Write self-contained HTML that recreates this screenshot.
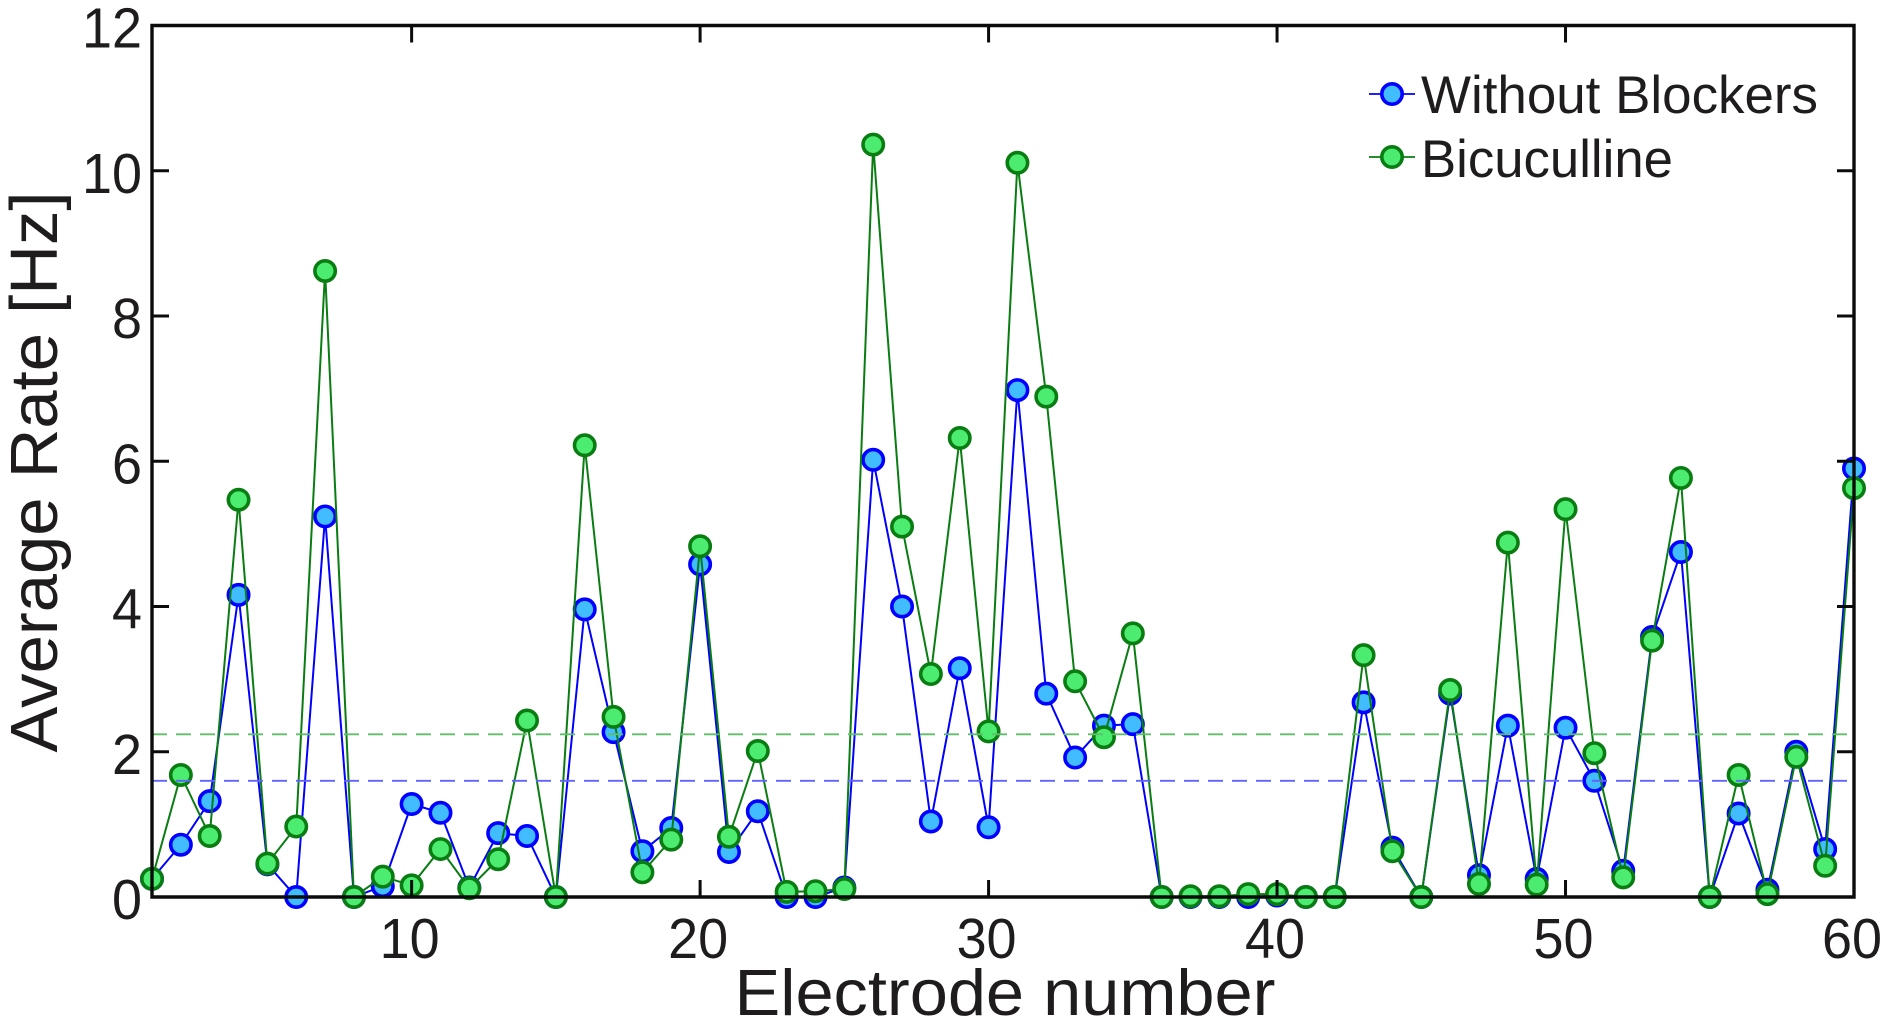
<!DOCTYPE html>
<html lang="en">
<head>
<meta charset="utf-8">
<title>Average Rate per Electrode</title>
<style>
html,body{margin:0;padding:0;background:#fff;}
svg{display:block;}
text{font-family:"Liberation Sans",sans-serif;fill:#1f1c1d;}
</style>
</head>
<body>
<svg id="chart" width="1890" height="1026" viewBox="0 0 1890 1026" xmlns="http://www.w3.org/2000/svg">
  <rect x="0" y="0" width="1890" height="1026" fill="#ffffff"/>
  <g id="series-layer"></g>
  <g id="mean-layer"></g>
  <g id="axis-layer"></g>
  <text x="0" y="0" font-size="67" text-anchor="middle" textLength="561" lengthAdjust="spacingAndGlyphs" transform="translate(57 472) rotate(-90)">Average Rate [Hz]</text>
  <text x="1005" y="1015" font-size="65" text-anchor="middle" textLength="541" lengthAdjust="spacingAndGlyphs">Electrode number</text>
  <g>
    <g>
      <line x1="1369" y1="94" x2="1415" y2="94" stroke="#0000ff" stroke-width="1.8"/>
      <circle cx="1392" cy="94" r="10.2" fill="#40bcff" stroke="#0000ff" stroke-width="3.6"/>
      <text x="1421" y="113" font-size="53" textLength="397" lengthAdjust="spacingAndGlyphs">Without Blockers</text>
    </g>
    <g>
      <line x1="1369" y1="157" x2="1415" y2="157" stroke="#0a7d12" stroke-width="1.8"/>
      <circle cx="1392" cy="157" r="10.2" fill="#4cec70" stroke="#0a7d12" stroke-width="3.6"/>
      <text x="1421" y="177" font-size="53" textLength="252" lengthAdjust="spacingAndGlyphs">Bicuculline</text>
    </g>
  </g>
</svg>
<script>
const withoutBlockers = [0.25,0.72,1.32,4.16,0.45,0,5.24,0,0.15,1.28,1.16,0.13,0.88,0.84,0,3.96,2.27,0.63,0.95,4.58,0.62,1.18,0,0,0.13,6.02,4.0,1.04,3.15,0.96,6.98,2.8,1.92,2.36,2.38,0,0,0,0,0.02,0,0,2.68,0.68,0,2.8,0.3,2.36,0.25,2.33,1.6,0.36,3.58,4.75,0,1.15,0.1,2.0,0.66,5.9];
const bicuculline = [0.25,1.68,0.84,5.47,0.46,0.97,8.62,0,0.28,0.16,0.66,0.12,0.52,2.43,0,6.22,2.48,0.34,0.79,4.83,0.83,2.01,0.07,0.08,0.11,10.36,5.1,3.07,6.32,2.28,10.11,6.89,2.97,2.2,3.63,0,0.01,0.01,0.04,0.04,0,0,3.33,0.63,0,2.85,0.18,4.88,0.17,5.34,1.98,0.27,3.53,5.77,0,1.68,0.04,1.93,0.43,5.63];
const meanWithoutBlockers = 1.6;
const meanBicuculline = 2.24;
const xTicks = [10,20,30,40,50,60];
const yTicks = [0,2,4,6,8,10,12];

const NS = 'http://www.w3.org/2000/svg';
const xMin = 1, xMax = 60, yMin = 0, yMax = 12;
const plotL = 152, plotR = 1854, plotT = 25.5, plotB = 897;
const DIGIT_W = 30;
function xScale(v){ return plotL + (v - xMin) / (xMax - xMin) * (plotR - plotL); }
function yScale(v){ return plotB - (v - yMin) / (yMax - yMin) * (plotB - plotT); }
function make(tag, attrs, parent){
  const el = document.createElementNS(NS, tag);
  for (const k in attrs) el.setAttribute(k, attrs[k]);
  parent.appendChild(el);
  return el;
}
const seriesLayer = document.getElementById('series-layer');
const meanLayer = document.getElementById('mean-layer');
const axisLayer = document.getElementById('axis-layer');

function drawSeries(values, key, lineColor, fill, edge){
  const line = make('polyline', {
    points: values.map((v, i) => xScale(i + 1) + ',' + yScale(v)).join(' '),
    fill: 'none', stroke: lineColor, 'stroke-width': 2, 'stroke-linejoin': 'miter'
  }, seriesLayer);
  
  
  values.forEach((v, i) => {
    const c = make('circle', {
      cx: xScale(i + 1), cy: yScale(v), r: 10.2, fill: fill, stroke: edge, 'stroke-width': 3.6
    }, seriesLayer);
    
    
  });
}
drawSeries(withoutBlockers, 'without-blockers', '#0000ff', '#40bcff', '#0000ff');
drawSeries(bicuculline, 'bicuculline', '#0a7d12', '#4cec70', '#0a7d12');

function drawMean(value, key, color, dash){
  const l = make('line', {
    x1: plotL, x2: plotR, y1: yScale(value), y2: yScale(value),
    stroke: color, 'stroke-width': 1.8, 'stroke-dasharray': dash
  }, meanLayer);
  
  
}
drawMean(meanBicuculline, 'bicuculline', '#5fbf68', '15 9');
drawMean(meanWithoutBlockers, 'without-blockers', '#6262ff', '15 9');

const frame = make('path', {
  d: 'M' + plotL + ' ' + plotT + 'H' + plotR + 'V' + plotB + 'H' + plotL + 'Z',
  fill: 'none', stroke: '#0b0b0b', 'stroke-width': 3.4
}, axisLayer);



xTicks.forEach(t => {
  const x = xScale(t);
  const tb = make('line', { x1: x, x2: x, y1: plotB, y2: plotB - 17, stroke: '#0b0b0b', 'stroke-width': 3 }, axisLayer);
  
  
  const tt = make('line', { x1: x, x2: x, y1: plotT, y2: plotT + 17, stroke: '#0b0b0b', 'stroke-width': 3 }, axisLayer);
  
  
  const label = make('text', { x: x - 2, y: 958, 'font-size': 57, 'text-anchor': 'middle', textLength: String(t).length * DIGIT_W, lengthAdjust: 'spacingAndGlyphs' }, axisLayer);
  
  
  label.textContent = t;
});
yTicks.forEach(t => {
  const y = yScale(t);
  const tl = make('line', { x1: plotL, x2: plotL + 17, y1: y, y2: y, stroke: '#0b0b0b', 'stroke-width': 3 }, axisLayer);
  
  
  const tr = make('line', { x1: plotR, x2: plotR - 17, y1: y, y2: y, stroke: '#0b0b0b', 'stroke-width': 3 }, axisLayer);
  
  
  const label = make('text', { x: 142, y: y + 22, 'font-size': 57, 'text-anchor': 'end', textLength: String(t).length * DIGIT_W, lengthAdjust: 'spacingAndGlyphs' }, axisLayer);
  
  
  label.textContent = t;
});
</script>
</body>
</html>
